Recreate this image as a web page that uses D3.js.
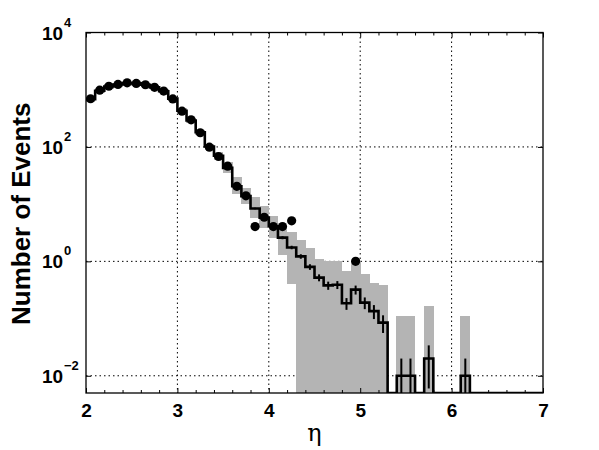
<!DOCTYPE html>
<html>
<head>
<meta charset="utf-8">
<script src="https://cdn.jsdelivr.net/npm/d3@7"></script>
<style>
  body { margin: 0; background: #fff; }
  svg text { font-family: "Liberation Sans", Arial, Helvetica, sans-serif; }
</style>
</head>
<body>
<div id="chart"></div>
<script>
// eta bins (centres, width 0.1)
var etaBins = [2.05, 2.15, 2.25, 2.35, 2.45, 2.55, 2.65, 2.75, 2.85, 2.95,
               3.05, 3.15, 3.25, 3.35, 3.45, 3.55, 3.65, 3.75, 3.85, 3.95,
               4.05, 4.15, 4.25, 4.35, 4.45, 4.55, 4.65, 4.75, 4.85, 4.95,
               5.05, 5.15, 5.25, 5.35, 5.45, 5.55, 5.65, 5.75, 5.85, 5.95,
               6.05, 6.15, 6.25, 6.35, 6.45, 6.55, 6.65, 6.75, 6.85, 6.95];
var binWidth = 0.1;

// simulated events (step histogram)
var mcEvents = [680, 960, 1140, 1230, 1300, 1290, 1220, 1100, 940, 700,
                430, 290, 180, 102, 70, 43, 20.5, 13.8, 8.4, 5.8,
                4.1, 2.6, 1.75, 1.22, 0.8, 0.52, 0.38, 0.39, 0.185, 0.32,
                0.19, 0.135, 0.085, 0, 0.01, 0.01, 0, 0.02, 0, 0,
                0, 0.01, 0, 0, 0, 0, 0, 0, 0, 0];
var mcErr = [2.6, 3.1, 3.4, 3.5, 3.6, 3.6, 3.5, 3.3, 3.1, 2.6,
             2.1, 1.7, 1.3, 1.0, 0.84, 0.66, 0.45, 0.37, 0.29, 0.24,
             0.2, 0.16, 0.13, 0.11, 0.09, 0.072, 0.062, 0.062, 0.043, 0.057,
             0.044, 0.037, 0.029, 0, 0.01, 0.01, 0, 0.014, 0, 0,
             0, 0.01, 0, 0, 0, 0, 0, 0, 0, 0];

// systematic band (grey boxes)
var sysLow = [620, 880, 1050, 1130, 1190, 1180, 1120, 1010, 860, 640,
              390, 262, 162, 90, 58, 35, 15.2, 10.2, 5.8, 3.9,
              2.6, 1.3, 0.4, 0, 0, 0, 0, 0, 0, 0,
              0, 0, 0, 0, 0, 0, 0, 0, 0, 0,
              0, 0, 0, 0, 0, 0, 0, 0, 0, 0];
var sysHigh = [740, 1040, 1240, 1330, 1410, 1400, 1320, 1190, 1020, 760,
               470, 318, 198, 114, 80, 54, 29.6, 19.4, 13.3, 9.3,
               6.2, 4.0, 3.2, 2.4, 1.73, 1.08, 1.01, 1.01, 0.68, 1.01,
               0.59, 0.42, 0.38, 0, 0.11, 0.11, 0, 0.166, 0, 0,
               0, 0.11, 0, 0, 0, 0, 0, 0, 0, 0];

// measured events (dots)
var dataEta = [2.05, 2.15, 2.25, 2.35, 2.45, 2.55, 2.65, 2.75, 2.85, 2.95,
               3.05, 3.15, 3.25, 3.35, 3.45, 3.55, 3.65, 3.75, 3.85, 3.95,
               4.05, 4.15, 4.25, 4.95];
var dataEvents = [695, 980, 1150, 1235, 1320, 1290, 1220, 1100, 945, 690,
                  422, 298, 177, 99, 68, 46, 20.5, 14, 4.05, 5.9,
                  4.05, 4.05, 5.1, 1.0];

var xTicks = [2, 3, 4, 5, 6, 7];
var yTicks = [1e-2, 1, 1e2, 1e4];
var yExps = ["\u22122", "0", "2", "4"];

var svgWidth = 599;
var svgHeight = 450;
var plot = { left: 86, right: 543, top: 32.5, bottom: 393 };
var yMin = 0.005;

var svg = d3.select("#chart").append("svg")
    .attr("width", svgWidth)
    .attr("height", svgHeight);

var x = d3.scaleLinear().domain([2, 7]).range([plot.left, plot.right]);
var y = d3.scaleLog().domain([yMin, 1e4]).range([plot.bottom, plot.top]).clamp(true);
var yv = v => y(Math.max(v, yMin));

svg.append("clipPath").attr("id", "clip")
  .append("rect")
    .attr("x", plot.left).attr("y", plot.top)
    .attr("width", plot.right - plot.left)
    .attr("height", plot.bottom - plot.top);

// grid
var grid = svg.append("g").attr("class", "grid");
grid.selectAll("line.gx")
  .data([3, 4, 5, 6]).enter().append("line")
    .attr("x1", d => x(d)).attr("x2", d => x(d))
    .attr("y1", plot.top).attr("y2", plot.bottom);
grid.selectAll("line.gy")
  .data([1e-2, 1, 1e2]).enter().append("line")
    .attr("x1", plot.left).attr("x2", plot.right)
    .attr("y1", d => y(d)).attr("y2", d => y(d));
grid.selectAll("line")
    .attr("stroke", "#000")
    .attr("stroke-width", 1)
    .attr("stroke-dasharray", "1.5,3");

var marks = svg.append("g").attr("clip-path", "url(#clip)");

// systematic band
marks.selectAll("rect.sys")
  .data(etaBins.map((e, i) => ({ e: e, lo: sysLow[i], hi: sysHigh[i] })).filter(d => d.hi > 0))
  .enter().append("rect")
    .attr("class", "sys")
    .attr("x", d => x(d.e - binWidth / 2) - 0.3)
    .attr("width", d => x(d.e + binWidth / 2) - x(d.e - binWidth / 2) + 0.6)
    .attr("y", d => yv(d.hi))
    .attr("height", d => yv(d.lo) - yv(d.hi))
    .attr("fill", "#b4b4b4")
    .attr("shape-rendering", "crispEdges");

// step histogram
var stepPts = [];
etaBins.forEach(function(e, i) {
    stepPts.push([e - binWidth / 2, mcEvents[i]]);
    stepPts.push([e + binWidth / 2, mcEvents[i]]);
});
marks.append("path")
    .datum(stepPts)
    .attr("fill", "none")
    .attr("stroke", "#000")
    .attr("stroke-width", 2.6)
    .attr("stroke-linejoin", "miter")
    .attr("d", d3.line().x(d => x(d[0])).y(d => yv(d[1])));

// error bars
marks.selectAll("line.err")
  .data(etaBins.map((e, i) => ({ e: e, v: mcEvents[i], err: mcErr[i] })).filter(d => d.v > 0))
  .enter().append("line")
    .attr("class", "err")
    .attr("x1", d => x(d.e)).attr("x2", d => x(d.e))
    .attr("y1", d => yv(d.v + d.err))
    .attr("y2", d => yv(d.v - d.err))
    .attr("stroke", "#000")
    .attr("stroke-width", 2);

// data points
marks.selectAll("circle")
  .data(dataEta.map((e, i) => ({ e: e, v: dataEvents[i] })))
  .enter().append("circle")
    .attr("cx", d => x(d.e))
    .attr("cy", d => yv(d.v))
    .attr("r", 4.6)
    .attr("fill", "#000");

// axes box
svg.append("rect")
    .attr("x", plot.left).attr("y", plot.top)
    .attr("width", plot.right - plot.left)
    .attr("height", plot.bottom - plot.top)
    .attr("fill", "none")
    .attr("stroke", "#000")
    .attr("stroke-width", 1.3);

var xMinor = d3.range(2.2, 7, 0.2).filter(v => Math.abs(v - Math.round(v)) > 0.01);

var bottomMinor = svg.append("g")
    .attr("transform", `translate(0,${plot.bottom})`)
    .call(d3.axisBottom(x).tickValues(xMinor).tickSize(-3).tickFormat(""));
var topMinor = svg.append("g")
    .attr("transform", `translate(0,${plot.top})`)
    .call(d3.axisTop(x).tickValues(xMinor).tickSize(-3).tickFormat(""));
var bottomAxis = svg.append("g")
    .attr("transform", `translate(0,${plot.bottom})`)
    .call(d3.axisBottom(x).tickValues(xTicks).tickSize(-5).tickPadding(11).tickFormat(d3.format("d")));
var topAxis = svg.append("g")
    .attr("transform", `translate(0,${plot.top})`)
    .call(d3.axisTop(x).tickValues(xTicks).tickSize(-5).tickFormat(""));
var leftAxis = svg.append("g")
    .attr("transform", `translate(${plot.left},0)`)
    .call(d3.axisLeft(y).tickValues(yTicks).tickSize(-5).tickFormat(""));
var rightAxis = svg.append("g")
    .attr("transform", `translate(${plot.right},0)`)
    .call(d3.axisRight(y).tickValues(yTicks).tickSize(-5).tickFormat(""));

[bottomMinor, topMinor, bottomAxis, topAxis, leftAxis, rightAxis].forEach(function(g) {
    g.select(".domain").remove();
    g.selectAll(".tick line").attr("stroke", "#000").attr("stroke-width", 1);
});
bottomAxis.selectAll(".tick text")
    .attr("fill", "#000")
    .style("font-size", "19px")
    .style("font-weight", "bold");

// y tick labels 10^n
var yLabels = svg.append("g");
yTicks.forEach(function(t, i) {
    var ty = y(t);
    yLabels.append("text")
        .attr("x", 42)
        .attr("y", ty + 7)
        .style("font-size", "19px")
        .style("font-weight", "bold")
        .attr("fill", "#000")
        .text("10");
    yLabels.append("text")
        .attr("x", 64)
        .attr("y", ty - 6)
        .style("font-size", "13px")
        .style("font-weight", "bold")
        .attr("fill", "#000")
        .text(yExps[i]);
});

// axis titles
svg.append("text")
    .attr("transform", `translate(30,${(plot.top + plot.bottom) / 2 + 1}) rotate(-90)`)
    .attr("text-anchor", "middle")
    .style("font-size", "26px")
    .style("font-weight", "bold")
    .attr("fill", "#000")
    .text("Number of Events");

svg.append("text")
    .attr("x", (plot.left + plot.right) / 2)
    .attr("y", 441)
    .attr("text-anchor", "middle")
    .style("font-family", "'DejaVu Serif', serif")
    .style("font-size", "24px")
    .attr("fill", "#000")
    .text("\u03b7");
</script>
</body>
</html>
